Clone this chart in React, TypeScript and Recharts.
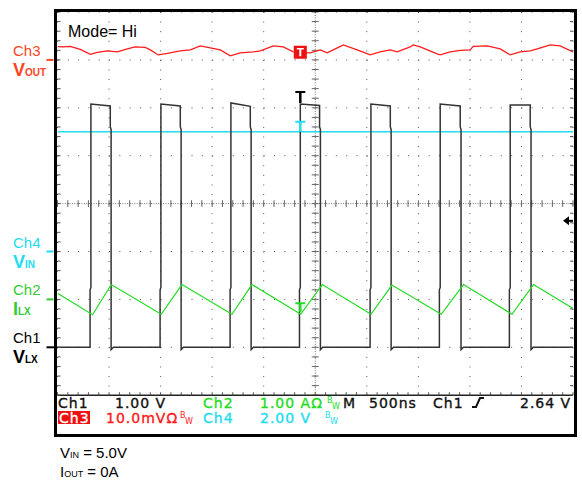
import React from 'react';
import { LineChart, Line, XAxis, YAxis, CartesianGrid, ReferenceLine, ReferenceDot } from 'recharts';

// Ch1 V_LX (1.00 V/div): switching edges in ns, top level at start / end of each pulse
const lxRiseNs = [-2176, -1497, -818, -145, 540, 1212, 1891];
const lxFallNs = [-1988, -1309, -630, 42, 728, 1406, 2085];
const lxTopStartV = [5.08, 5.08, 5.1, 5.08, 5.08, 5.08, 5.06];
const lxTopEndV = [5.04, 5.04, 5.03, 5.05, 5.04, 5.04, 5.06];

// Ch2 I_LX (1.00 A/div): triangle vertices
const ilxTimeNs = [-2500, -2160, -1979, -1494, -1293, -808, -614, -141, 68, 540, 744, 1222, 1438, 1908, 2117, 2500];
const ilxAmps = [0.13, -0.32, 0.31, -0.31, 0.31, -0.31, 0.31, -0.31, 0.31, -0.31, 0.3, -0.31, 0.31, -0.31, 0.31, -0.19];

// Ch3 V_OUT ripple (10.0 mV/div, AC)
const voutTimeNs = [
  -2500, -2444, -2376, -2279, -2182, -2114, -2017, -1920, -1823, -1746, -1649, -1600, -1523, -1435,
  -1309, -1212, -1115, -1018, -921, -824, -727, -601, -533, -407, -310, -213, -145, -48, 48, 116,
  194, 272, 407, 533, 630, 727, 795, 921, 950, 1018, 1183, 1212, 1309, 1406, 1503, 1532, 1668,
  1794, 1891, 1988, 2085, 2153, 2279, 2376, 2500,
];
const voutMv = [
  2.78, 2.71, 2.82, 2.19, 1.15, 1.57, 1.88, 1.67, 2.3, 2.71, 2.61, 2.09, 1.04, 1.36,
  1.88, 2.09, 2.92, 2.51, 2.09, 0.84, 1.46, 1.67, 1.88, 2.92, 2.71, 1.67, 1.57, 1.46, 2.09, 1.46,
  2.3, 3.13, 2.09, 1.04, 1.67, 2.09, 1.67, 2.71, 3.13, 2.71, 1.25, 1.04, 1.67, 1.98, 2.09, 2.82, 2.92,
  2.3, 1.04, 1.67, 1.88, 2.3, 3.13, 2.92, 1.67,
];

// Ch4 V_IN (2.00 V/div)
const vinTimeNs = [-2500, 2500];
const vinVolts = [5.0, 5.0];

const triggerNs = -145;
const triggerLevelV = 2.64;

const lxData: { t: number; v: number }[] = [{ t: -2500, v: 0 }];
lxRiseNs.forEach((r, i) => {
  const f = lxFallNs[i];
  lxData.push(
    { t: r - 8, v: 0 },
    { t: r - 8, v: 1.2 },
    { t: r, v: 1.25 },
    { t: r, v: lxTopStartV[i] },
    { t: f, v: lxTopEndV[i] },
    { t: f, v: 4.6 },
    { t: f + 8, v: 4.55 },
    { t: f + 8, v: -0.05 },
    { t: f + 30, v: 0 },
  );
});
lxData.push({ t: 2500, v: 0 });
const ilxData = ilxTimeNs.map((t, i) => ({ t, v: ilxAmps[i] }));
const voutData = voutTimeNs.map((t, i) => ({ t, v: voutMv[i] }));
const vinData = vinTimeNs.map((t, i) => ({ t, v: vinVolts[i] }));

// graticule: 10 x 500 ns, 8 divisions, 5 minor steps each
const minorT = Array.from({ length: 51 }, (_, i) => -2500 + i * 100);
const minorDiv = Array.from({ length: 41 }, (_, i) => i * 0.2);

const SANS = '"Liberation Sans", Arial, sans-serif';
const SCOPE = '"DejaVu Sans", sans-serif';
const RED = '#ff1a1a';
const GREEN = '#22dd22';
const CYAN = '#22dcf0';

const blank = () => '';

const groundMarker = (color: string, top: string, main: string, sub: string, long?: boolean) => (props: any) => {
  const { cx, cy } = props;
  return (
    <g>
      <line x1={cx - 11} x2={long ? cx : cx - 4} y1={cy} y2={cy} stroke={color} strokeWidth={2} />
      <text x={13} y={cy - 4} fill={color} fontSize={15} fontFamily={SANS}>{top}</text>
      <text x={13} y={cy + 16} fill={color} fontFamily={SANS} fontWeight="bold">
        <tspan fontSize={18}>{main}</tspan>
        <tspan fontSize={10}>{sub}</tspan>
      </text>
    </g>
  );
};

const teeMarker = (color: string, up: number, down: number) => (props: any) => {
  const { cx, cy } = props;
  return (
    <g stroke={color}>
      <line x1={cx - 5} x2={cx + 5} y1={cy - up} y2={cy - up} strokeWidth={2} />
      <line x1={cx} x2={cx} y1={cy - up} y2={cy - down} strokeWidth={2.5} />
    </g>
  );
};

const redTrigBox = (props: any) => {
  const { cx, cy } = props;
  return (
    <g>
      <rect x={cx - 6.5} y={cy - 6.5} width={13} height={13} fill="#ee1111" />
      <line x1={cx - 3.5} x2={cx + 3.5} y1={cy - 3.5} y2={cy - 3.5} stroke="#fff" strokeWidth={1.5} />
      <line x1={cx} x2={cx} y1={cy - 3.5} y2={cy + 4} stroke="#fff" strokeWidth={2} />
    </g>
  );
};

const levelArrow = (props: any) => {
  const { cx, cy } = props;
  return (
    <g>
      <path d={`M${cx - 10},${cy} L${cx - 4},${cy - 4.5} L${cx - 4},${cy + 4.5} Z`} fill="#000" />
      <line x1={cx - 5} x2={cx} y1={cy} y2={cy} stroke="#000" strokeWidth={2} />
    </g>
  );
};

const ScopeText = ({ x, y, color, children }: { x: number; y: number; color: string; children: React.ReactNode }) => (
  <text x={x} y={y} fill={color} stroke={color} strokeWidth={0.35} fontFamily={SCOPE} fontSize={14} letterSpacing={1}>
    {children}
  </text>
);

const App: React.FC = () => {
  return (
    <div style={{ position: 'absolute', left: 0, top: 0, width: 582, height: 485, background: '#fff' }}>
      <LineChart width={582} height={485} margin={{ top: 12, right: 9, bottom: 89.8, left: 57.5 }}>
        <XAxis xAxisId="t" type="number" dataKey="t" domain={[-2500, 2500]} allowDataOverflow
          orientation="bottom" mirror ticks={minorT} interval={0} tickSize={3} tickFormatter={blank}
          axisLine={{ stroke: '#222', strokeWidth: 1.5 }} tickLine={{ stroke: '#555' }} />
        <XAxis xAxisId="top" type="number" domain={[-2500, 2500]} allowDataOverflow
          orientation="top" mirror ticks={minorT} interval={0} tickSize={3} tickFormatter={blank}
          axisLine={false} tickLine={{ stroke: '#555' }} />
        <YAxis yAxisId="div" type="number" domain={[0, 8]} allowDataOverflow orientation="left" mirror
          ticks={minorDiv} interval={0} tickSize={3} tickFormatter={blank} axisLine={false} tickLine={{ stroke: '#555' }} />
        <YAxis yAxisId="divR" type="number" domain={[0, 8]} allowDataOverflow orientation="right" mirror
          ticks={minorDiv} interval={0} tickSize={3} tickFormatter={blank} axisLine={false} tickLine={{ stroke: '#555' }} />
        <YAxis yAxisId="ch1" type="number" domain={[-1, 7]} allowDataOverflow hide />
        <YAxis yAxisId="ch2" type="number" domain={[-2, 6]} allowDataOverflow hide />
        <YAxis yAxisId="ch3" type="number" domain={[-70, 10]} allowDataOverflow hide />
        <YAxis yAxisId="ch4" type="number" domain={[-6, 10]} allowDataOverflow hide />

        <CartesianGrid xAxisId="t" yAxisId="div" horizontal={false} stroke="#555" strokeDasharray="1 8.58"
          verticalCoordinatesGenerator={({ offset }: any) =>
            Array.from({ length: 11 }, (_, i) => offset.left + (i * offset.width) / 10)} />
        <CartesianGrid xAxisId="t" yAxisId="div" vertical={false} stroke="#555" strokeDasharray="1 9.31"
          horizontalCoordinatesGenerator={({ offset }: any) =>
            Array.from({ length: 9 }, (_, i) => offset.top + (i * offset.height) / 8)} />

        <ReferenceLine xAxisId="t" yAxisId="div" x={0} stroke="#777" strokeDasharray="1 1.4" />
        <ReferenceLine xAxisId="t" yAxisId="div" y={4} stroke="#777" strokeDasharray="1 1.4" />
        {minorT.map((t) => (
          <ReferenceLine key={`ht${t}`} xAxisId="t" yAxisId="div" stroke="#666"
            segment={[{ x: t, y: 3.93 }, { x: t, y: 4.07 }]} />
        ))}
        {minorDiv.map((d) => (
          <ReferenceLine key={`vt${d}`} xAxisId="t" yAxisId="div" stroke="#666"
            segment={[{ x: -34, y: d }, { x: 34, y: d }]} />
        ))}

        <Line xAxisId="t" yAxisId="ch4" data={vinData} dataKey="v" type="linear" dot={false}
          stroke={CYAN} strokeWidth={1.6} isAnimationActive={false} />
        <Line xAxisId="t" yAxisId="ch1" data={lxData} dataKey="v" type="linear" dot={false}
          stroke="#333" strokeWidth={1.5} isAnimationActive={false} />
        <Line xAxisId="t" yAxisId="ch2" data={ilxData} dataKey="v" type="linear" dot={false}
          stroke={GREEN} strokeWidth={1.2} isAnimationActive={false} />
        <Line xAxisId="t" yAxisId="ch3" data={voutData} dataKey="v" type="linear" dot={false}
          stroke={RED} strokeWidth={1.2} isAnimationActive={false} />

        <ReferenceDot xAxisId="t" yAxisId="ch3" x={-2500} y={0} ifOverflow="visible"
          shape={groundMarker('#ff4422', 'Ch3', 'V', 'OUT')} />
        <ReferenceDot xAxisId="t" yAxisId="ch4" x={-2500} y={0} ifOverflow="visible"
          shape={groundMarker(CYAN, 'Ch4', 'V', 'IN')} />
        <ReferenceDot xAxisId="t" yAxisId="ch2" x={-2500} y={0} ifOverflow="visible"
          shape={groundMarker('#33cc33', 'Ch2', 'I', 'LX')} />
        <ReferenceDot xAxisId="t" yAxisId="ch1" x={-2500} y={0} ifOverflow="visible"
          shape={groundMarker('#000', 'Ch1', 'V', 'LX', true)} />

        <ReferenceDot xAxisId="t" yAxisId="ch1" x={triggerNs} y={lxTopStartV[3]} ifOverflow="visible"
          shape={teeMarker('#000', 12, 1)} />
        <ReferenceDot xAxisId="t" yAxisId="ch4" x={triggerNs} y={vinVolts[0]} ifOverflow="visible"
          shape={teeMarker(CYAN, 10, 0)} />
        <ReferenceDot xAxisId="t" yAxisId="ch2" x={triggerNs} y={-0.31} ifOverflow="visible"
          shape={teeMarker(GREEN, 11, 2)} />
        <ReferenceDot xAxisId="t" yAxisId="ch3" x={triggerNs} y={1.6} ifOverflow="visible"
          shape={redTrigBox} />
        <ReferenceDot xAxisId="t" yAxisId="ch1" x={2500} y={triggerLevelV} ifOverflow="visible"
          shape={levelArrow} />
      </LineChart>

      <svg width={582} height={485} style={{ position: 'absolute', left: 0, top: 0, pointerEvents: 'none' }}>
        <rect x={55.5} y={10.5} width={520} height={425} fill="none" stroke="#000" strokeWidth={3} />
        <text x={68} y={36.5} fontSize={16} fontFamily={SANS} fill="#000">Mode= Hi</text>

        <ScopeText x={58} y={408} color="#111">Ch1</ScopeText>
        <ScopeText x={115} y={408} color="#111">1.00 V</ScopeText>
        <ScopeText x={203} y={408} color={GREEN}>Ch2</ScopeText>
        <ScopeText x={260} y={408} color={GREEN}>1.00 AΩ</ScopeText>
        <ScopeText x={343} y={408} color="#111">M</ScopeText>
        <ScopeText x={369} y={408} color="#111">500ns</ScopeText>
        <ScopeText x={433} y={408} color="#111">Ch1</ScopeText>
        <ScopeText x={520} y={408} color="#111">2.64 V</ScopeText>

        <rect x={58} y={411} width={32} height={13} fill="#ee1111" />
        <ScopeText x={59} y={423} color="#fff">Ch3</ScopeText>
        <ScopeText x={106} y={423} color={RED}>10.0mVΩ</ScopeText>
        <ScopeText x={203} y={423} color={CYAN}>Ch4</ScopeText>
        <ScopeText x={260} y={423} color={CYAN}>2.00 V</ScopeText>

        <g fontFamily={SCOPE} fontSize={8}>
          <text x={327} y={403} fill={GREEN}>B</text>
          <text x={332} y={409} fill={GREEN}>W</text>
          <text x={180} y={418} fill={RED}>B</text>
          <text x={185} y={424} fill={RED}>W</text>
          <text x={325} y={418} fill={CYAN}>B</text>
          <text x={330} y={424} fill={CYAN}>W</text>
        </g>
        <path d="M472,407 L476,407 L480,398 L484,398" fill="none" stroke="#111" strokeWidth={2} />

        <text x={60} y={458} fontFamily={SANS} fontSize={15} fill="#000">
          <tspan>V</tspan>
          <tspan fontSize={9}>IN</tspan>
          <tspan fontSize={15}> = 5.0V</tspan>
        </text>
        <text x={60} y={477} fontFamily={SANS} fontSize={15} fill="#000">
          <tspan>I</tspan>
          <tspan fontSize={9}>OUT</tspan>
          <tspan fontSize={15}> = 0A</tspan>
        </text>
      </svg>
    </div>
  );
};

export default App;
